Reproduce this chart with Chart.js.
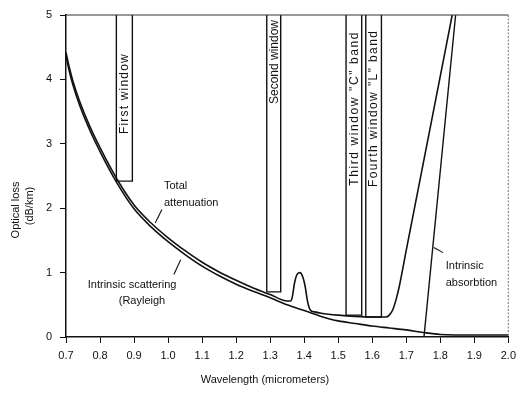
<!DOCTYPE html>
<html>
<head>
<meta charset="utf-8">
<script src="https://cdn.jsdelivr.net/npm/chart.js@4.4.1/dist/chart.umd.min.js"></script>
<style>
  html, body { margin: 0; padding: 0; background: #fff; }
  #wrap { width: 522px; height: 394px; }
</style>
</head>
<body>
<div id="wrap"><canvas id="lossChart" width="522" height="394"></canvas></div>
<script>
// valores (comprimento de onda em µm, perda em dB/km)
const totalX = [0.70, 0.71, 0.72, 0.74, 0.77, 0.80, 0.85, 0.90, 0.95, 1.00, 1.05, 1.10, 1.15, 1.20, 1.25, 1.30, 1.35,
                1.36, 1.365, 1.372, 1.38, 1.388, 1.396, 1.403, 1.41, 1.418, 1.43, 1.45, 1.50, 1.55, 1.60, 1.64,
                1.65, 1.66, 1.67, 1.68, 1.70, 1.75, 1.80, 1.835];
const totalY = [4.42, 4.18, 3.98, 3.66, 3.27, 2.94, 2.45, 2.05, 1.77, 1.54, 1.34, 1.16, 1.01, 0.88, 0.76, 0.66, 0.56,
                0.56, 0.62, 0.85, 0.98, 1.00, 0.93, 0.78, 0.55, 0.42, 0.39, 0.37, 0.34, 0.32, 0.31, 0.31,
                0.34, 0.42, 0.58, 0.80, 1.35, 2.70, 4.05, 5.00];

const scatterX = [0.70, 0.71, 0.72, 0.74, 0.77, 0.80, 0.85, 0.90, 0.95, 1.00, 1.05, 1.10, 1.15, 1.20, 1.25, 1.30, 1.35,
                  1.40, 1.45, 1.50, 1.55, 1.60, 1.65, 1.70, 1.75, 1.80, 1.90, 2.00];
const scatterY = [4.37, 4.12, 3.92, 3.60, 3.21, 2.88, 2.39, 1.99, 1.71, 1.48, 1.28, 1.10, 0.95, 0.82, 0.71, 0.61, 0.50,
                  0.41, 0.32, 0.25, 0.21, 0.17, 0.14, 0.11, 0.07, 0.04, 0.03, 0.03];

const absorbX = [1.752, 1.845];
const absorbY = [0, 5];

// janelas de transmissão
const windowNames  = ['First window', 'Second window', 'Third window "C" band', 'Fourth window "L" band'];
const windowStart  = [0.848, 1.290, 1.523, 1.581];
const windowEnd    = [0.895, 1.331, 1.569, 1.627];
const windowBottom = [2.42, 0.70, 0.34, 0.31];

const xTickLabels = ['0.7', '0.8', '0.9', '1.0', '1.1', '1.2', '1.3', '1.4', '1.5', '1.6', '1.7', '1.8', '1.9', '2.0'];
const yTickLabels = ['0', '1', '2', '3', '4', '5'];

const INK = '#111';
const FONT = "'Liberation Sans', Arial, sans-serif";

function toPoints(xs, ys) {
    return xs.map((x, i) => ({ x: x, y: ys[i] }));
}

const datasets = [
    {
        label: 'Total attenuation',
        data: toPoints(totalX, totalY),
        borderColor: INK, borderWidth: 1.6, pointRadius: 0,
        cubicInterpolationMode: 'monotone', clip: 3
    },
    {
        label: 'Intrinsic scattering',
        data: toPoints(scatterX, scatterY),
        borderColor: INK, borderWidth: 1.6, pointRadius: 0,
        cubicInterpolationMode: 'monotone', clip: 3
    },
    {
        label: 'Intrinsic absorbtion',
        data: toPoints(absorbX, absorbY),
        borderColor: INK, borderWidth: 1.4, pointRadius: 0, clip: 3
    }
];

// cada janela vira um retângulo aberto no topo
windowNames.forEach((nome, i) => {
    datasets.push({
        label: nome,
        data: toPoints([windowStart[i], windowStart[i], windowEnd[i], windowEnd[i]],
                       [5, windowBottom[i], windowBottom[i], 5]),
        borderColor: INK, borderWidth: 1.4, pointRadius: 0, tension: 0, clip: 3
    });
});

// textos soltos (posição em unidades dos eixos)
const notas = [
    { text: 'Total', x: 0.988, y: 2.35 },
    { text: 'attenuation', x: 0.988, y: 2.08 },
    { text: 'Intrinsic scattering', x: 0.764, y: 0.81 },
    { text: '(Rayleigh', x: 0.855, y: 0.56 },
    { text: 'Intrinsic', x: 1.816, y: 1.11 },
    { text: 'absorbtion', x: 1.816, y: 0.84 }
];
const setas = [
    [0.982, 1.98, 0.962, 1.77],
    [1.037, 1.20, 1.017, 0.97],
    [1.781, 1.39, 1.808, 1.31]
];
const textoJanelas = [
    { y: 3.78, spacing: 1.2 },
    { y: 4.27, spacing: 0 },
    { y: 3.55, spacing: 1.6 },
    { y: 3.55, spacing: 1.4 }
];

const extras = {
    id: 'extras',
    afterDraw(chart) {
        const { ctx, chartArea: a, scales: { x, y } } = chart;
        ctx.save();

        // moldura de cima e da direita
        ctx.strokeStyle = '#333';
        ctx.lineWidth = 1.2;
        ctx.beginPath();
        ctx.moveTo(a.left, a.top);
        ctx.lineTo(a.right, a.top);
        ctx.stroke();
        ctx.strokeStyle = '#888';
        ctx.setLineDash([2, 1.5]);
        ctx.beginPath();
        ctx.moveTo(a.right, a.top);
        ctx.lineTo(a.right, a.bottom);
        ctx.stroke();
        ctx.setLineDash([]);

        ctx.fillStyle = INK;
        ctx.font = '11px ' + FONT;
        ctx.textBaseline = 'middle';
        ctx.textAlign = 'left';
        notas.forEach(n => ctx.fillText(n.text, x.getPixelForValue(n.x), y.getPixelForValue(n.y)));

        ctx.strokeStyle = INK;
        ctx.lineWidth = 1.1;
        setas.forEach(s => {
            ctx.beginPath();
            ctx.moveTo(x.getPixelForValue(s[0]), y.getPixelForValue(s[1]));
            ctx.lineTo(x.getPixelForValue(s[2]), y.getPixelForValue(s[3]));
            ctx.stroke();
        });

        // nomes das janelas, girados
        ctx.font = '12px ' + FONT;
        ctx.textAlign = 'center';
        windowNames.forEach((nome, i) => {
            const cx = x.getPixelForValue((windowStart[i] + windowEnd[i]) / 2);
            const cy = y.getPixelForValue(textoJanelas[i].y);
            ctx.save();
            ctx.translate(cx + 0.5, cy);
            ctx.rotate(-Math.PI / 2);
            ctx.letterSpacing = textoJanelas[i].spacing + 'px';
            ctx.fillText(nome, 0, 0);
            ctx.restore();
        });

        // títulos dos eixos
        ctx.font = '11px ' + FONT;
        ctx.textAlign = 'center';
        ctx.fillText('Wavelength (micrometers)', 265, 380);
        ctx.save();
        ctx.translate(16, 210);
        ctx.rotate(-Math.PI / 2);
        ctx.fillText('Optical loss', 0, 0);
        ctx.restore();
        ctx.save();
        ctx.translate(30, 206);
        ctx.rotate(-Math.PI / 2);
        ctx.fillText('(dB/km)', 0, 0);
        ctx.restore();

        ctx.restore();
    }
};

new Chart(document.getElementById('lossChart'), {
    type: 'line',
    data: { datasets: datasets },
    options: {
        responsive: false,
        animation: false,
        events: [],
        layout: { padding: { top: 15, right: 9, left: 0, bottom: 0 } },
        plugins: { legend: { display: false }, tooltip: { enabled: false } },
        scales: {
            x: {
                type: 'linear', min: 0.7, max: 2.0,
                afterFit: s => { s.height = 57; },
                border: { color: INK, width: 1.5 },
                grid: { drawOnChartArea: false, drawTicks: true, tickLength: 6, color: INK },
                ticks: {
                    stepSize: 0.1, padding: 6, color: INK, maxRotation: 0,
                    font: { family: FONT, size: 11 },
                    callback: v => xTickLabels[Math.round((v - 0.7) * 10)]
                }
            },
            y: {
                type: 'linear', min: 0, max: 5,
                afterFit: s => { s.width = 66; },
                border: { color: INK, width: 1.5 },
                grid: { drawOnChartArea: false, drawTicks: true, tickLength: 6, color: INK },
                ticks: {
                    stepSize: 1, padding: 8, color: INK,
                    font: { family: FONT, size: 11 },
                    callback: v => yTickLabels[Math.round(v)]
                }
            }
        }
    },
    plugins: [extras]
});
</script>
</body>
</html>
